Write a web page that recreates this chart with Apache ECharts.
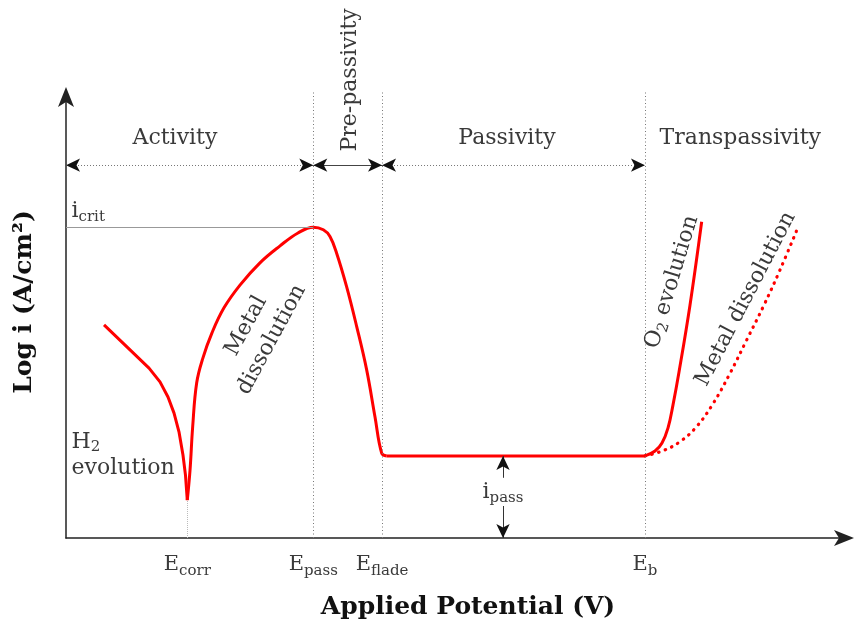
<!DOCTYPE html>
<html><head><meta charset="utf-8">
<script src="https://cdn.jsdelivr.net/npm/echarts@6/dist/echarts.min.js"></script>
<style>html,body{margin:0;padding:0;background:#fff}#c{width:855px;height:625px}</style>
</head><body><div id="c"></div>
<script>
// ---- characteristic potentials (arbitrary units along the potential axis) ----
const markerValues = [1.547, 3.154, 4.031, 7.385];          // Ecorr, Epass, Eflade, Eb
const markerLabels = ['{e|E}{s|corr}', '{e|E}{s|pass}', '{e|E}{s|flade}', '{e|E}{s|b}'];
const iCrit = 6.97;
const iPass = 1.84;
const regionRowY = 8.36;
const regionNames = ['Activity', 'Pre-passivity', 'Passivity', 'Transpassivity'];

// ---- polarisation curve (log i, arbitrary units) ----
const cathodicX = [0.485, 1.059, 1.199, 1.301, 1.378, 1.441, 1.492, 1.524, 1.547];
const cathodicY = [4.78, 3.81, 3.50, 3.16, 2.80, 2.38, 1.86, 1.41, 0.85];
const anodicX = [1.547, 1.582, 1.616, 1.667, 1.747, 1.862, 2.015, 2.219, 2.474, 2.730, 2.959, 3.154, 3.282, 3.367, 3.453, 3.580, 3.708, 3.835, 3.941, 4.027, 4.091];
const anodicY = [0.85, 1.52, 2.50, 3.48, 4.04, 4.60, 5.16, 5.67, 6.17, 6.55, 6.84, 6.97, 6.91, 6.76, 6.38, 5.63, 4.74, 3.77, 2.72, 1.90, 1.84];
const passiveX = [4.091, 7.385];
const passiveY = [1.84, 1.84];
const o2X = [7.385, 7.513, 7.602, 7.679, 7.742, 7.819, 7.959, 8.108];
const o2Y = [1.84, 1.95, 2.13, 2.47, 2.98, 3.72, 5.22, 7.09];
const transX = [7.385, 7.619, 7.832, 8.045, 8.256, 8.469, 8.682, 8.894, 9.107, 9.340];
const transY = [1.84, 1.96, 2.16, 2.50, 3.02, 3.69, 4.44, 5.19, 6.01, 6.98];

const zip = (xs, ys) => xs.map((x, i) => [x, ys[i]]);
const SERIF = '"DejaVu Serif", serif';
const TXT = '#3a3a3a';
const RED = '#ff0000';
const GREY = '#777';
const X_MAX = 10, Y_MAX = 10;

const richBase = {
  e: { fontFamily: SERIF, fontSize: 21, color: TXT, lineHeight: 28, verticalAlign: 'middle' },
  i: { fontFamily: SERIF, fontSize: 22, color: TXT, lineHeight: 28, verticalAlign: 'middle' },
  t: { fontFamily: SERIF, fontSize: 22, color: TXT, lineHeight: 26, verticalAlign: 'middle' },
  s: { fontFamily: SERIF, fontSize: 15, color: TXT, lineHeight: 15, verticalAlign: 'bottom' }
};

const endPt = (x, y, sym) => ({ coord: [x, y], symbol: sym, symbolSize: [10, 14] });
const seg = (x1, y1, x2, y2, s1, s2, style) => [
  Object.assign(endPt(x1, y1, s1), { lineStyle: style }),
  endPt(x2, y2, s2)
];
// a grey dotted shaft plus black arrow heads (heads drawn on an invisible line)
const arrowSeg = (x1, y1, x2, y2, s1, s2, shaft) => [
  seg(x1, y1, x2, y2, 'none', 'none', shaft),
  seg(x1, y1, x2, y2, s1, s2, { color: '#111', width: 0, opacity: 1 })
];
const dotted = { color: GREY, width: 1, type: [1, 2] };
const solidThin = { color: '#444', width: 1, type: 'solid' };
const vDotted = { color: GREY, width: 1, type: [1, 2.5] };

const [eCorr, ePass, eFlade, eB] = markerValues;
const ipassX = 5.574;

const annotations = [
  // region arrows
  ...arrowSeg(0.0, regionRowY, ePass, regionRowY, 'arrow', 'arrow', dotted),
  ...arrowSeg(ePass, regionRowY, eFlade, regionRowY, 'arrow', 'arrow', solidThin),
  ...arrowSeg(eFlade, regionRowY, eB, regionRowY, 'arrow', 'arrow', dotted),
  ...arrowSeg(eB, regionRowY, X_MAX + 0.06, regionRowY, 'arrow', 'none', dotted),
  // vertical guides
  seg(ePass, 0, ePass, Y_MAX, 'none', 'none', vDotted),
  seg(eFlade, 0, eFlade, Y_MAX, 'none', 'none', vDotted),
  seg(eB, 0, eB, Y_MAX, 'none', 'none', vDotted),
  seg(eCorr, 0, eCorr, 0.85, 'none', 'none', { color: '#bbb', width: 1, type: [1, 1] }),
  // i_crit reference
  seg(0, iCrit, ePass, iCrit, 'none', 'none', { color: '#999', width: 1, type: 'solid' }),
  // i_pass double arrow
  ...arrowSeg(ipassX, 1.35, ipassX, iPass, 'none', 'arrow', { color: '#333', width: 1, type: 'solid' }),
  ...arrowSeg(ipassX, 0.72, ipassX, 0, 'none', 'arrow', { color: '#333', width: 1, type: 'solid' })
];

const lbl = (x, y, text, extra) => ({
  coord: [x, y],
  label: Object.assign({ show: true, position: 'inside', formatter: text, color: TXT,
    fontFamily: SERIF, fontSize: 22, rich: richBase }, extra || {})
});

const texts = [
  lbl(1.39, 8.97, regionNames[0]),
  lbl(5.625, 8.97, regionNames[2]),
  lbl(8.6, 8.97, regionNames[3]),
  lbl(0.07, 7.33, '{i|i}{s|crit}', { align: 'left' }),
  lbl(0.07, 1.86, '{t|H}{s|2}\n{t|evolution}', { align: 'left' }),
  lbl(2.46, 4.6, 'Metal\ndissolution', { rotate: 61.5, lineHeight: 29 }),
  lbl(7.73, 5.74, '{t|O}{s|2}{t| evolution}', { rotate: 73 }),
  lbl(8.67, 5.36, 'Metal dissolution', { rotate: 62.5 }),
  lbl(ipassX, 1.03, '{i|i}{s|pass}', { backgroundColor: '#fff' })
];
// label that sits above the plotting area (placed with the grid's own scale below)
const prePassivityPos = [3.62, 10.27];

const curveStyle = { color: RED, width: 3 };
const chart = echarts.init(document.getElementById('c'), null, { renderer: 'canvas' });
chart.setOption({
  animation: false,
  backgroundColor: '#fff',
  grid: { left: 66, right: 5, top: 92, bottom: 87, containLabel: false },
  xAxis: {
    type: 'value', min: 0, max: X_MAX,
    splitLine: { show: false },
    axisTick: { show: false },
    axisLine: { show: true, lineStyle: { color: '#222', width: 1.5 }, symbol: ['none', 'arrow'], symbolSize: [12, 20], symbolOffset: [0, 4] },
    axisLabel: {
      customValues: markerValues,
      margin: 13,
      formatter: v => markerLabels[markerValues.indexOf(v)] || '',
      rich: richBase
    },
    name: 'Applied Potential (V)',
    nameLocation: 'middle',
    nameGap: 57,
    nameTextStyle: { fontFamily: SERIF, fontWeight: 'bold', fontSize: 25, color: '#111', padding: [0, 0, 0, 20] }
  },
  yAxis: {
    type: 'value', min: 0, max: Y_MAX,
    splitLine: { show: false },
    axisTick: { show: false },
    axisLabel: { show: false },
    axisLine: { show: true, lineStyle: { color: '#222', width: 1.5 }, symbol: ['none', 'arrow'], symbolSize: [12, 20], symbolOffset: [0, 5] },
    name: 'Log i (A/cm²)',
    nameLocation: 'middle',
    nameRotate: 90,
    nameGap: 29,
    nameTextStyle: { fontFamily: SERIF, fontWeight: 'bold', fontSize: 25, color: '#111', padding: [0, 0, 0, 26] }
  },
  series: [
    { type: 'line', data: zip(cathodicX, cathodicY), showSymbol: false, lineStyle: curveStyle, clip: false },
    { type: 'line', data: zip(anodicX, anodicY), showSymbol: false, smooth: 0.4, lineStyle: curveStyle, clip: false },
    { type: 'line', data: zip(passiveX, passiveY), showSymbol: false, lineStyle: curveStyle, clip: false },
    { type: 'line', data: zip(o2X, o2Y), showSymbol: false, smooth: 0.4, lineStyle: curveStyle, clip: false },
    { type: 'line', data: zip(transX, transY), showSymbol: false, smooth: 0.4, z: 1,
      lineStyle: { color: RED, width: 3.2, type: [0.5, 6.5], cap: 'round' }, clip: false },
    {
      type: 'line', data: [], clip: false, z: 3,
      markLine: { silent: true, animation: false, symbol: ['none', 'none'], label: { show: false },
        data: annotations },
      markPoint: { silent: true, animation: false, symbol: 'circle', symbolSize: 0, itemStyle: { color: 'transparent' },
        data: texts }
    }
  ]
});
const pp = chart.convertToPixel({ gridIndex: 0 }, prePassivityPos);
chart.setOption({
  graphic: [{
    type: 'text', x: pp[0], y: pp[1], rotation: Math.PI / 2, silent: true,
    style: { text: regionNames[1], fontFamily: SERIF, fontSize: 22, fill: TXT, align: 'center', verticalAlign: 'middle' }
  }]
});
</script></body></html>
